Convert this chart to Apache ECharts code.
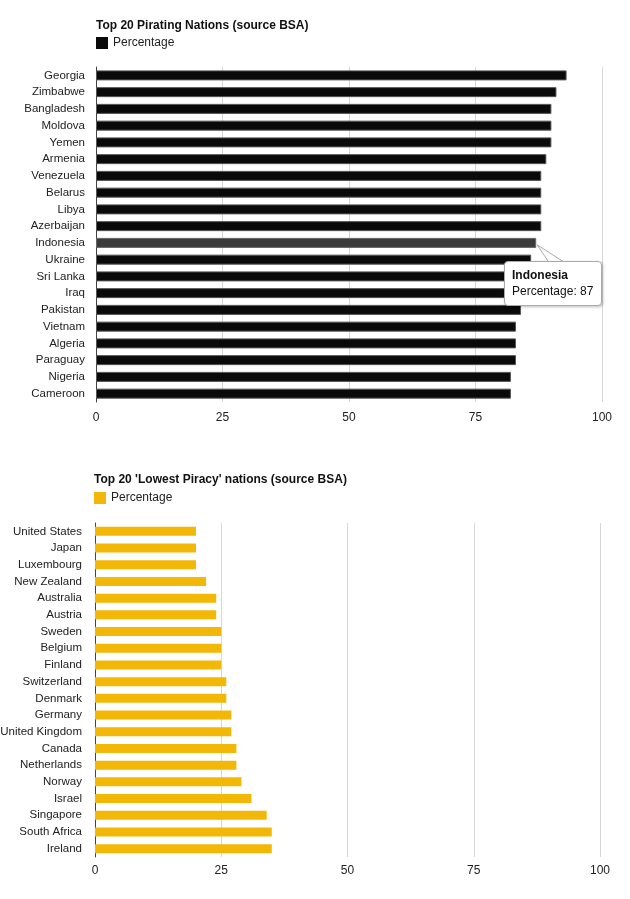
<!DOCTYPE html>
<html>
<head>
<meta charset="utf-8">
<script src="https://cdn.jsdelivr.net/npm/echarts@6/dist/echarts.min.js"></script>
<style>
  html, body { margin: 0; padding: 0; background: #fff; }
  #main { width: 630px; height: 899px; }
</style>
</head>
<body>
<div id="main"></div>
<script>
// 盗版率最高的20个国家
var topNations = ['Georgia', 'Zimbabwe', 'Bangladesh', 'Moldova', 'Yemen', 'Armenia', 'Venezuela',
    'Belarus', 'Libya', 'Azerbaijan', 'Indonesia', 'Ukraine', 'Sri Lanka', 'Iraq', 'Pakistan',
    'Vietnam', 'Algeria', 'Paraguay', 'Nigeria', 'Cameroon'];
var topValues = [93, 91, 90, 90, 90, 89, 88, 88, 88, 88, 87, 86, 86, 85, 84, 83, 83, 83, 82, 82];
// 盗版率最低的20个国家
var lowNations = ['United States', 'Japan', 'Luxembourg', 'New Zealand', 'Australia', 'Austria',
    'Sweden', 'Belgium', 'Finland', 'Switzerland', 'Denmark', 'Germany', 'United Kingdom', 'Canada',
    'Netherlands', 'Norway', 'Israel', 'Singapore', 'South Africa', 'Ireland'];
var lowValues = [20, 20, 20, 22, 24, 24, 25, 25, 25, 26, 26, 27, 27, 28, 28, 29, 31, 34, 35, 35];
var ticks = [0, 25, 50, 75, 100];
var focusName = 'Indonesia';

var font = 'Liberation Sans, Arial, sans-serif';
var chartDom = document.getElementById('main');
var myChart = echarts.init(chartDom);

function valueAxis(gridIndex) {
    return {
        type: 'value',
        gridIndex: gridIndex,
        min: ticks[0],
        max: ticks[ticks.length - 1],
        interval: 25,
        axisLine: { show: false },
        axisTick: { show: false },
        axisLabel: { color: '#222', fontSize: 12, fontFamily: font, margin: gridIndex ? 8 : 10 },
        splitLine: { lineStyle: { color: '#d6d6d6', width: 1 } }
    };
}
function categoryAxis(gridIndex, names) {
    return {
        type: 'category',
        gridIndex: gridIndex,
        data: names,
        inverse: true,
        axisLine: { lineStyle: { color: '#444', width: 1 } },
        axisTick: { show: false },
        axisLabel: { color: '#222', fontSize: 11.5, fontFamily: font, margin: gridIndex ? 13 : 11 }
    };
}
function legendAt(name, left, top) {
    return {
        data: [name], left: left, top: top, padding: 0, icon: 'rect',
        itemWidth: 12, itemHeight: 12, itemGap: 6,
        itemStyle: { borderWidth: 0 },
        formatter: function () { return 'Percentage'; },
        textStyle: { fontSize: 12, color: '#222', fontFamily: font }
    };
}

var option = {
    animation: false,
    textStyle: { fontFamily: font },
    title: [
        { text: 'Top 20 Pirating Nations (source BSA)', left: 96, top: 20, padding: 0,
          textStyle: { fontSize: 12, fontWeight: 'bold', color: '#111', fontFamily: font } },
        { text: "Top 20 'Lowest Piracy' nations (source BSA)", left: 94, top: 474, padding: 0,
          textStyle: { fontSize: 12, fontWeight: 'bold', color: '#111', fontFamily: font } }
    ],
    legend: [legendAt('Pirating', 96, 37), legendAt('Lowest', 94, 492)],
    grid: [
        { left: 96, right: 28, top: 67, height: 335, outerBoundsMode: 'none', containLabel: false },
        { left: 95, right: 30, top: 523, height: 334, outerBoundsMode: 'none', containLabel: false }
    ],
    xAxis: [valueAxis(0), valueAxis(1)],
    yAxis: [categoryAxis(0, topNations), categoryAxis(1, lowNations)],
    tooltip: {
        trigger: 'item',
        alwaysShowContent: true,
        backgroundColor: '#fff',
        borderColor: '#aaa',
        borderWidth: 1,
        borderRadius: 4,
        padding: [6, 8, 6, 7],
        extraCssText: 'box-shadow: 1px 1px 3px rgba(0,0,0,0.25);',
        position: function (point, params, dom, rect, size) {
            return [rect.x + rect.width - 32, rect.y + 23];
        },
        formatter: function (p) {
            return '<div style="font:bold 12px ' + font + ';color:#111;line-height:15px">' + p.name +
                '</div><div style="font:12px ' + font + ';color:#111;line-height:16px">Percentage: ' +
                p.value + '</div>';
        }
    },
    series: [
        {
            name: 'Pirating',
            type: 'bar',
            xAxisIndex: 0,
            yAxisIndex: 0,
            data: topValues,
            barWidth: 10,
            itemStyle: { color: '#0a0a0a', borderColor: '#555', borderWidth: 1 },
            emphasis: { itemStyle: { color: '#3a3a3a', borderColor: '#666' } }
        },
        {
            name: 'Lowest',
            type: 'bar',
            xAxisIndex: 1,
            yAxisIndex: 1,
            data: lowValues,
            barWidth: 9,
            itemStyle: { color: '#f2b707' }
        }
    ]
};
option && myChart.setOption(option);

// 提示框的小尖角，从柱子末端指向提示框
var idx = topNations.indexOf(focusName);
var tip = myChart.convertToPixel({ gridIndex: 0 }, [topValues[idx], focusName]);
myChart.setOption({
    graphic: [{
        type: 'polygon',
        z: 100,
        shape: { points: [[tip[0] + 1, tip[1] + 2], [tip[0] + 13, tip[1] + 20], [tip[0] + 29, tip[1] + 20]] },
        style: { fill: '#fff', stroke: '#aaa', lineWidth: 1 }
    }]
});

myChart.dispatchAction({ type: 'highlight', seriesIndex: 0, dataIndex: idx });
myChart.dispatchAction({ type: 'showTip', seriesIndex: 0, dataIndex: idx });
</script>
</body>
</html>
